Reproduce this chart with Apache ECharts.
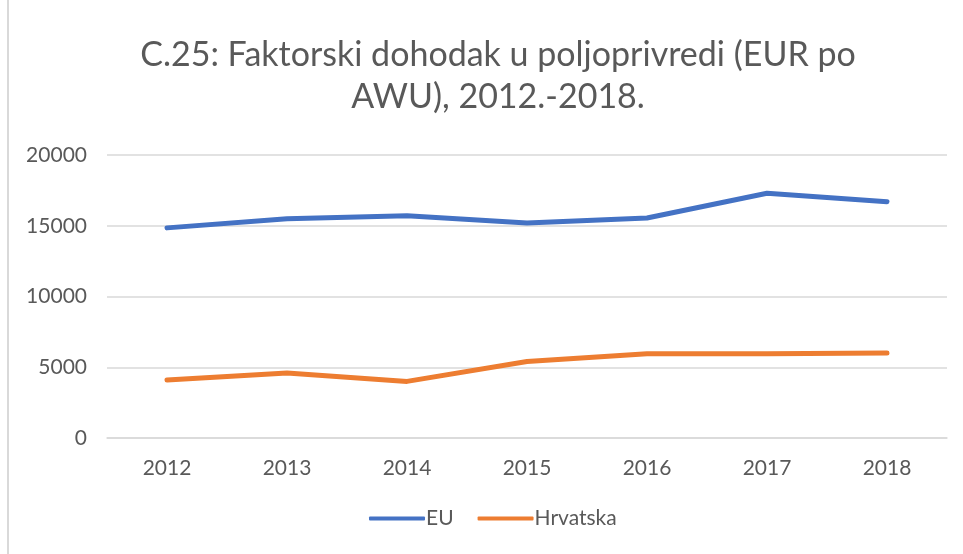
<!DOCTYPE html>
<html lang="hr">
  <head>
    <meta charset="UTF-8" />
    <title>C.25</title>
    <script src="https://cdn.jsdelivr.net/npm/echarts@6/dist/echarts.min.js"></script>
    <style>
      html, body { margin: 0; padding: 0; background: #fff; }
      #main { width: 963px; height: 554px; }
      .rub {
        position: absolute;
        left: 7px;
        top: 0;
        width: 2px;
        height: 554px;
        background: #d9d9d9;
      }
    </style>
  </head>
  <body>
    <div id="main"></div>
    <div class="rub"></div>
    <script>
      // podaci
      var years = ["2012", "2013", "2014", "2015", "2016", "2017", "2018"];
      var eu = [14850, 15500, 15700, 15200, 15550, 17300, 16700];
      var hrvatska = [4100, 4600, 4000, 5400, 5950, 5950, 6000];

      var myChart = echarts.init(document.getElementById("main"));
      var txt = "#595959";
      var font = "Lato, 'Open Sans', sans-serif";

      var option = {
        animation: false,
        title: {
          text: "C.25: Faktorski dohodak u poljoprivredi (EUR po\nAWU), 2012.-2018.",
          left: 493,
          textAlign: "center",
          top: 29,
          textStyle: {
            color: txt,
            fontFamily: font,
            fontSize: 34,
            fontWeight: "normal",
            lineHeight: 42,
          },
        },
        legend: {
          bottom: 20,
          left: 364,
          itemWidth: 56,
          itemHeight: 4,
          itemGap: 24,
          icon: "roundRect",
          textStyle: { color: txt, fontFamily: font, fontSize: 21, padding: [0, 0, 0, -4] },
          data: ["EU", "Hrvatska"],
        },
        grid: {
          left: 107,
          right: 16,
          top: 155,
          bottom: 116,
        },
        xAxis: {
          type: "category",
          data: years,
          boundaryGap: true,
          axisTick: { show: false },
          axisLine: { lineStyle: { color: "#d9d9d9", width: 1.5 } },
          axisLabel: { color: txt, fontFamily: font, fontSize: 21, margin: 20 },
        },
        yAxis: {
          type: "value",
          min: 0,
          max: 20000,
          interval: 5000,
          axisLine: { show: false },
          axisTick: { show: false },
          splitLine: { lineStyle: { color: "#d9d9d9", width: 1.5 } },
          axisLabel: {
            color: txt,
            fontFamily: font,
            fontSize: 21,
            margin: 20,
            formatter: function (v) { return String(v); },
          },
        },
        series: [
          {
            name: "EU",
            type: "line",
            data: eu,
            symbol: "none",
            lineStyle: { color: "#4472C4", width: 5, cap: "round", join: "round" },
            itemStyle: { color: "#4472C4" },
          },
          {
            name: "Hrvatska",
            type: "line",
            data: hrvatska,
            symbol: "none",
            lineStyle: { color: "#ED7D31", width: 5, cap: "round", join: "round" },
            itemStyle: { color: "#ED7D31" },
          },
        ],
      };
      myChart.setOption(option);
    </script>
  </body>
</html>
